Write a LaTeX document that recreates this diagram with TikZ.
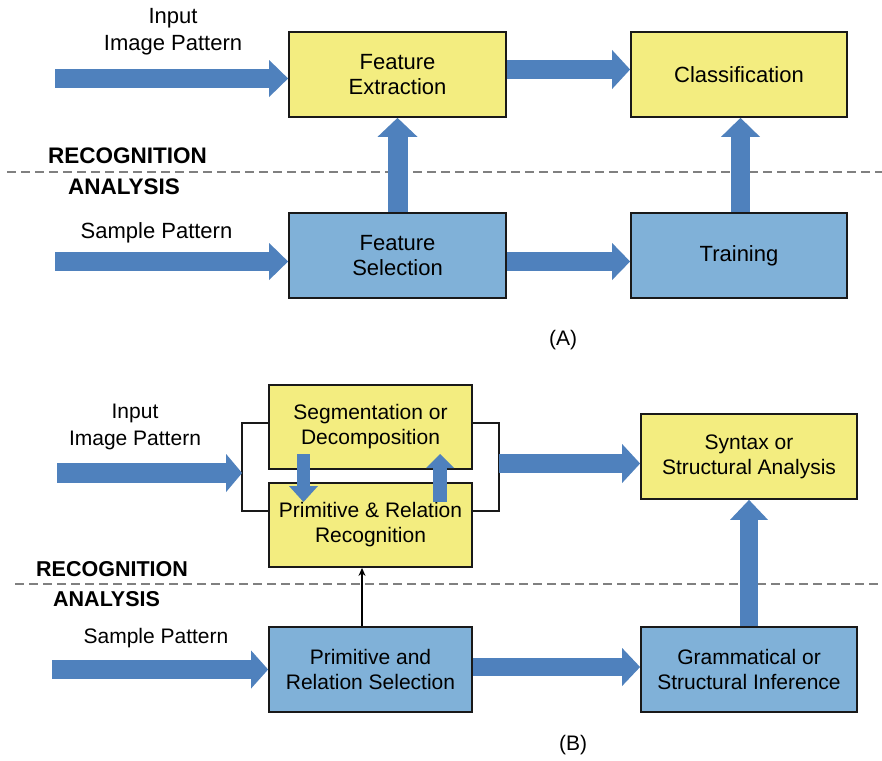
\documentclass[tikz,border=0pt]{standalone}
\usepackage{fontspec}
\setmainfont{Liberation Sans}
\usetikzlibrary{arrows.meta,calc}
\definecolor{boxyellow}{RGB}{243,237,128}
\definecolor{boxblue}{RGB}{128,177,216}
\definecolor{arrowblue}{RGB}{79,129,189}
\definecolor{dashgray}{RGB}{128,128,128}
\tikzset{
  box/.style={draw=black!90, line width=1.8pt, align=center, inner sep=0pt},
  ybox/.style={box, fill=boxyellow},
  bbox/.style={box, fill=boxblue},
  fontA/.style={font=\fontsize{22}{25}\selectfont},
  fontB/.style={font=\fontsize{21}{25}\selectfont},
  lbl/.style={align=center, inner sep=0pt},
  hdr/.style={inner sep=0pt, anchor=west},
  fatarrow/.style n args={3}{draw=arrowblue, line width=#1,
    -{Triangle[width=#2, length=#3, line width'=0pt, fill=arrowblue]}},
  thinarrow/.style={draw=black, line width=1.2pt, -{Stealth[length=8pt, width=7pt]}},
  sepline/.style={draw=dashgray, line width=1.8pt, dash pattern=on 9pt off 5pt},
  bracket/.style={draw=black!90, line width=1.6pt}
}
\begin{document}
\begin{tikzpicture}[x=1pt, y=-1pt]
\fill[white] (0,0) rectangle (882,760);
\useasboundingbox (0,0) rectangle (882,760);

% ---------------- (A) statistical scheme ----------------
\node[ybox, fontA, minimum width=217pt, minimum height=85pt] (fe) at (397.5,74.5) {Feature\\Extraction};
\node[ybox, fontA, minimum width=216pt, minimum height=85pt] (cl) at (739,74.5) {Classification};
\node[bbox, fontA, minimum width=217pt, minimum height=85pt] (fs) at (397.5,255.5) {Feature\\Selection};
\node[bbox, fontA, minimum width=216pt, minimum height=85pt] (tr) at (739,255.5) {Training};

\node[lbl, font=\fontsize{22}{27}\selectfont] (inA) at (173,31.5) {Input\\Image Pattern};
\node[lbl, font=\fontsize{22}{25}\selectfont] (spA) at (156.5,233) {Sample Pattern};
\node[hdr, font=\fontsize{22.5}{25}\selectfont\bfseries] (recA) at (48,156) {RECOGNITION};
\node[hdr, font=\fontsize{22.5}{25}\selectfont\bfseries] (anaA) at (68,187) {ANALYSIS};
\node[lbl, font=\fontsize{21}{25}\selectfont] (capA) at (563,340) {(A)};

\coordinate (sepAl) at (7,172);
\coordinate (sepAr) at (882,172);
\draw[sepline] (sepAl) -- (sepAr);

\coordinate (inAstart) at (55,78.5);
\coordinate (spAstart) at (55,261.5);
\coordinate (feOut) at ($(fe.east)+(0,-5)$);
\coordinate (fsOut) at ($(fs.east)+(0,6)$);
\draw[fatarrow={19pt}{37pt}{19pt}] (inAstart) -- (inAstart -| fe.west);
\draw[fatarrow={19pt}{37pt}{19pt}] (spAstart) -- (spAstart -| fs.west);
\draw[fatarrow={19pt}{39pt}{18pt}] (feOut) -- (feOut -| cl.west);
\draw[fatarrow={19pt}{37pt}{18pt}] (fsOut) -- (fsOut -| tr.west);
\draw[fatarrow={20pt}{40pt}{19pt}] (fs.north) -- (fe.south);
\draw[fatarrow={19pt}{39pt}{19pt}] ($(tr.north)+(1.5,0)$) -- ($(cl.south)+(1.5,0)$);

% ---------------- (B) structural scheme ----------------
\node[ybox, fontB, minimum width=203pt, minimum height=84pt] (seg) at (370.5,427) {Segmentation or\\Decomposition};
\node[ybox, fontB, minimum width=203pt, minimum height=84pt] (prr) at (370.5,525) {Primitive \& Relation\\Recognition};
\node[ybox, fontB, minimum width=216pt, minimum height=85pt] (syn) at (749,456.5) {Syntax or\\Structural Analysis};
\node[bbox, fontB, minimum width=203pt, minimum height=85pt] (prs) at (370.5,669.5) {Primitive and\\Relation Selection};
\node[bbox, fontB, minimum width=216pt, minimum height=85pt] (gsi) at (749,669.5) {Grammatical or\\Structural Inference};

\node[lbl, font=\fontsize{21}{27}\selectfont] (inB) at (135,426.5) {Input\\Image Pattern};
\node[lbl, font=\fontsize{21}{25}\selectfont] (spB) at (156,638) {Sample Pattern};
\node[hdr, font=\fontsize{21.5}{25}\selectfont\bfseries] (recB) at (36,569) {RECOGNITION};
\node[hdr, font=\fontsize{21.5}{25}\selectfont\bfseries] (anaB) at (53,599) {ANALYSIS};
\node[lbl, font=\fontsize{21}{25}\selectfont] (capB) at (573,745) {(B)};

\coordinate (sepBl) at (15,584);
\coordinate (sepBr) at (882,584);
\draw[sepline] (sepBl) -- (sepBr);

% brackets joining the two recognition blocks
\draw[bracket] ($(seg.west)+(0,-4)$) -- ++(-26,0) coordinate (brLt) |- ($(prr.west)+(0,-14)$);
\draw[bracket] ($(seg.east)+(0,-4)$) -- ++(26,0) coordinate (brRt) |- ($(prr.east)+(0,-14)$);
\coordinate (brLin) at ($(brLt)+(0,50)$);
\coordinate (brRout) at ($(brRt)+(0,40.5)$);

\coordinate (inBstart) at (57,473);
\coordinate (spBstart) at (52,669.5);
\coordinate (prsOut) at ($(prs.east)+(0,-2.5)$);
\draw[fatarrow={20pt}{38pt}{16pt}] (inBstart) -- (brLin);
\draw[fatarrow={19pt}{39pt}{18pt}] (brRout) -- (brRout -| syn.west);
\draw[fatarrow={19pt}{38pt}{17pt}] (spBstart) -- (spBstart -| prs.west);
\draw[fatarrow={18pt}{38pt}{18pt}] (prsOut) -- (prsOut -| gsi.west);
\draw[fatarrow={18pt}{38pt}{20pt}] (gsi.north) -- (syn.south);

% exchange between segmentation and primitive recognition
\coordinate (dnTop) at (303.5,454);
\coordinate (dnBot) at (303.5,502);
\coordinate (upBot) at (440,502);
\coordinate (upTop) at (440,454);
\draw[fatarrow={13pt}{29pt}{16pt}] (dnTop) -- (dnBot);
\draw[fatarrow={14pt}{28pt}{14pt}] (upBot) -- (upTop);

\draw[thinarrow] ($(prs.north)+(-8.5,0)$) -- ($(prr.south)+(-8.5,0)$);
\end{tikzpicture}
\end{document}
